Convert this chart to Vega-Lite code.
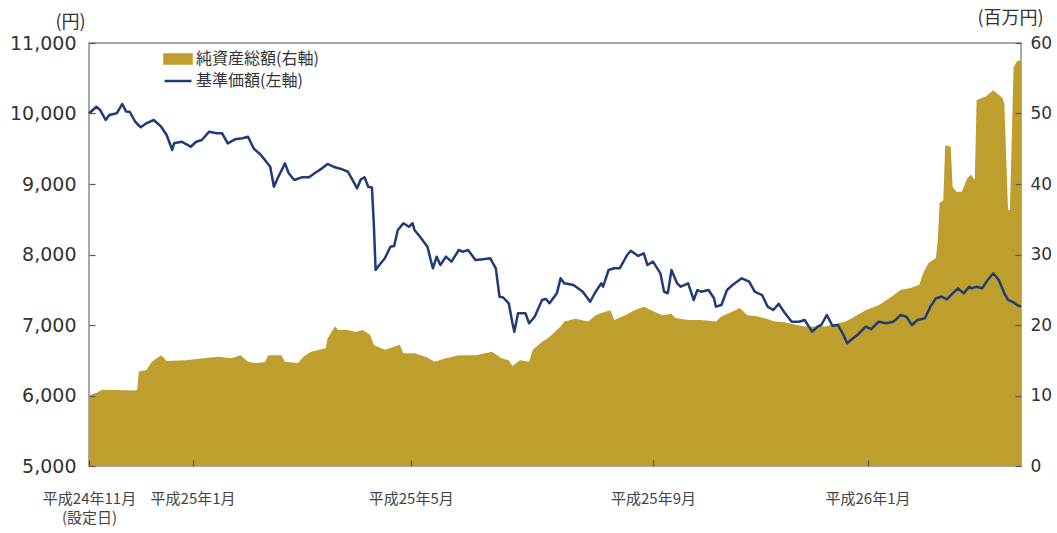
{
  "$schema": "https://vega.github.io/schema/vega-lite/v6.json",
  "width": 932,
  "height": 423,
  "autosize": {"type": "none"},
  "padding": {"left": 89, "top": 43, "right": 36, "bottom": 67},
  "background": "white",
  "config": {
    "view": {"stroke": "#8c8c8c", "strokeWidth": 1.5},
    "font": "Noto Sans CJK JP"
  },
  "datasets": {
    "nav": [
      {"date": "2012-11-06", "nav": 10000}, {"date": "2012-11-10", "nav": 10096}, {"date": "2012-11-12", "nav": 10050},
      {"date": "2012-11-15", "nav": 9908}, {"date": "2012-11-17", "nav": 9979}, {"date": "2012-11-21", "nav": 10003},
      {"date": "2012-11-24", "nav": 10135}, {"date": "2012-11-26", "nav": 10030}, {"date": "2012-11-28", "nav": 10025},
      {"date": "2012-12-01", "nav": 9883}, {"date": "2012-12-04", "nav": 9804}, {"date": "2012-12-07", "nav": 9861},
      {"date": "2012-12-11", "nav": 9908}, {"date": "2012-12-15", "nav": 9813}, {"date": "2012-12-18", "nav": 9695},
      {"date": "2012-12-21", "nav": 9482}, {"date": "2012-12-22", "nav": 9577}, {"date": "2012-12-26", "nav": 9600},
      {"date": "2012-12-31", "nav": 9529}, {"date": "2013-01-03", "nav": 9600}, {"date": "2013-01-06", "nav": 9624},
      {"date": "2013-01-10", "nav": 9742}, {"date": "2013-01-14", "nav": 9719}, {"date": "2013-01-17", "nav": 9719},
      {"date": "2013-01-20", "nav": 9577}, {"date": "2013-01-24", "nav": 9634}, {"date": "2013-01-28", "nav": 9648},
      {"date": "2013-01-31", "nav": 9671}, {"date": "2013-02-03", "nav": 9506}, {"date": "2013-02-07", "nav": 9411},
      {"date": "2013-02-12", "nav": 9245}, {"date": "2013-02-14", "nav": 8962}, {"date": "2013-02-16", "nav": 9081},
      {"date": "2013-02-20", "nav": 9293}, {"date": "2013-02-22", "nav": 9152}, {"date": "2013-02-25", "nav": 9057},
      {"date": "2013-03-01", "nav": 9095}, {"date": "2013-03-05", "nav": 9095}, {"date": "2013-03-08", "nav": 9152},
      {"date": "2013-03-12", "nav": 9222}, {"date": "2013-03-15", "nav": 9284}, {"date": "2013-03-19", "nav": 9237},
      {"date": "2013-03-23", "nav": 9208}, {"date": "2013-03-26", "nav": 9174}, {"date": "2013-03-29", "nav": 9033},
      {"date": "2013-03-31", "nav": 8939}, {"date": "2013-04-02", "nav": 9067}, {"date": "2013-04-04", "nav": 9095},
      {"date": "2013-04-06", "nav": 8962}, {"date": "2013-04-08", "nav": 8950}, {"date": "2013-04-09", "nav": 8443},
      {"date": "2013-04-10", "nav": 7780}, {"date": "2013-04-12", "nav": 7851}, {"date": "2013-04-15", "nav": 7946},
      {"date": "2013-04-18", "nav": 8111}, {"date": "2013-04-20", "nav": 8120}, {"date": "2013-04-22", "nav": 8347},
      {"date": "2013-04-25", "nav": 8443}, {"date": "2013-04-28", "nav": 8394}, {"date": "2013-04-30", "nav": 8443},
      {"date": "2013-05-01", "nav": 8347}, {"date": "2013-05-04", "nav": 8252}, {"date": "2013-05-08", "nav": 8111},
      {"date": "2013-05-10", "nav": 7900}, {"date": "2013-05-11", "nav": 7804}, {"date": "2013-05-13", "nav": 7969},
      {"date": "2013-05-15", "nav": 7851}, {"date": "2013-05-18", "nav": 7969}, {"date": "2013-05-21", "nav": 7898},
      {"date": "2013-05-25", "nav": 8064}, {"date": "2013-05-27", "nav": 8040}, {"date": "2013-05-30", "nav": 8064},
      {"date": "2013-06-03", "nav": 7922}, {"date": "2013-06-06", "nav": 7930}, {"date": "2013-06-11", "nav": 7946},
      {"date": "2013-06-14", "nav": 7804}, {"date": "2013-06-16", "nav": 7401}, {"date": "2013-06-18", "nav": 7390},
      {"date": "2013-06-21", "nav": 7308}, {"date": "2013-06-23", "nav": 7024}, {"date": "2013-06-24", "nav": 6905},
      {"date": "2013-06-26", "nav": 7166}, {"date": "2013-06-30", "nav": 7166}, {"date": "2013-07-02", "nav": 7024},
      {"date": "2013-07-05", "nav": 7118}, {"date": "2013-07-09", "nav": 7355}, {"date": "2013-07-11", "nav": 7370},
      {"date": "2013-07-13", "nav": 7308}, {"date": "2013-07-17", "nav": 7449}, {"date": "2013-07-19", "nav": 7662},
      {"date": "2013-07-21", "nav": 7591}, {"date": "2013-07-26", "nav": 7567}, {"date": "2013-07-31", "nav": 7472},
      {"date": "2013-08-04", "nav": 7330}, {"date": "2013-08-07", "nav": 7472}, {"date": "2013-08-10", "nav": 7591},
      {"date": "2013-08-11", "nav": 7543}, {"date": "2013-08-14", "nav": 7780}, {"date": "2013-08-17", "nav": 7804},
      {"date": "2013-08-20", "nav": 7804}, {"date": "2013-08-24", "nav": 7993}, {"date": "2013-08-26", "nav": 8054},
      {"date": "2013-08-30", "nav": 7979}, {"date": "2013-09-02", "nav": 8017}, {"date": "2013-09-04", "nav": 7851},
      {"date": "2013-09-07", "nav": 7898}, {"date": "2013-09-11", "nav": 7733}, {"date": "2013-09-13", "nav": 7472},
      {"date": "2013-09-15", "nav": 7450}, {"date": "2013-09-17", "nav": 7780}, {"date": "2013-09-20", "nav": 7591},
      {"date": "2013-09-22", "nav": 7543}, {"date": "2013-09-26", "nav": 7591}, {"date": "2013-09-29", "nav": 7355},
      {"date": "2013-10-01", "nav": 7496}, {"date": "2013-10-03", "nav": 7472}, {"date": "2013-10-07", "nav": 7496},
      {"date": "2013-10-10", "nav": 7379}, {"date": "2013-10-11", "nav": 7260}, {"date": "2013-10-14", "nav": 7283},
      {"date": "2013-10-17", "nav": 7496}, {"date": "2013-10-20", "nav": 7567}, {"date": "2013-10-25", "nav": 7662},
      {"date": "2013-10-29", "nav": 7615}, {"date": "2013-11-01", "nav": 7472}, {"date": "2013-11-05", "nav": 7425},
      {"date": "2013-11-08", "nav": 7260}, {"date": "2013-11-11", "nav": 7213}, {"date": "2013-11-14", "nav": 7300},
      {"date": "2013-11-17", "nav": 7180}, {"date": "2013-11-21", "nav": 7047}, {"date": "2013-11-25", "nav": 7047},
      {"date": "2013-11-28", "nav": 7071}, {"date": "2013-12-02", "nav": 6905}, {"date": "2013-12-05", "nav": 6976},
      {"date": "2013-12-07", "nav": 7000}, {"date": "2013-12-10", "nav": 7142}, {"date": "2013-12-13", "nav": 6990},
      {"date": "2013-12-16", "nav": 7000}, {"date": "2013-12-19", "nav": 6858}, {"date": "2013-12-21", "nav": 6740},
      {"date": "2013-12-23", "nav": 6787}, {"date": "2013-12-27", "nav": 6870}, {"date": "2013-12-31", "nav": 6976},
      {"date": "2014-01-03", "nav": 6940}, {"date": "2014-01-07", "nav": 7047}, {"date": "2014-01-11", "nav": 7024},
      {"date": "2014-01-15", "nav": 7047}, {"date": "2014-01-19", "nav": 7142}, {"date": "2014-01-22", "nav": 7118},
      {"date": "2014-01-25", "nav": 7000}, {"date": "2014-01-28", "nav": 7071}, {"date": "2014-02-01", "nav": 7095},
      {"date": "2014-02-04", "nav": 7260}, {"date": "2014-02-07", "nav": 7379}, {"date": "2014-02-10", "nav": 7401},
      {"date": "2014-02-13", "nav": 7365}, {"date": "2014-02-16", "nav": 7449}, {"date": "2014-02-19", "nav": 7520},
      {"date": "2014-02-22", "nav": 7449}, {"date": "2014-02-25", "nav": 7543}, {"date": "2014-02-26", "nav": 7520},
      {"date": "2014-03-01", "nav": 7543}, {"date": "2014-03-04", "nav": 7520}, {"date": "2014-03-07", "nav": 7638},
      {"date": "2014-03-10", "nav": 7733}, {"date": "2014-03-13", "nav": 7638}, {"date": "2014-03-16", "nav": 7449},
      {"date": "2014-03-18", "nav": 7355}, {"date": "2014-03-21", "nav": 7320}, {"date": "2014-03-23", "nav": 7283},
      {"date": "2014-03-25", "nav": 7260}
    ],
    "aum": [
      {"date": "2012-11-06", "aum": 10.0}, {"date": "2012-11-11", "aum": 10.5}, {"date": "2012-11-13", "aum": 10.8},
      {"date": "2012-12-01", "aum": 10.7}, {"date": "2012-12-02", "aum": 10.8}, {"date": "2012-12-03", "aum": 13.4},
      {"date": "2012-12-07", "aum": 13.6}, {"date": "2012-12-10", "aum": 14.8}, {"date": "2012-12-15", "aum": 15.7},
      {"date": "2012-12-18", "aum": 14.9}, {"date": "2012-12-28", "aum": 15.0}, {"date": "2013-01-15", "aum": 15.5},
      {"date": "2013-01-22", "aum": 15.3}, {"date": "2013-01-27", "aum": 15.7}, {"date": "2013-01-31", "aum": 14.8},
      {"date": "2013-02-04", "aum": 14.6}, {"date": "2013-02-09", "aum": 14.7}, {"date": "2013-02-11", "aum": 15.7},
      {"date": "2013-02-18", "aum": 15.7}, {"date": "2013-02-20", "aum": 14.8}, {"date": "2013-02-27", "aum": 14.6},
      {"date": "2013-03-02", "aum": 15.5}, {"date": "2013-03-06", "aum": 16.2}, {"date": "2013-03-14", "aum": 16.7},
      {"date": "2013-03-15", "aum": 18.1}, {"date": "2013-03-19", "aum": 19.8}, {"date": "2013-03-21", "aum": 19.3},
      {"date": "2013-03-26", "aum": 19.3}, {"date": "2013-03-30", "aum": 19.0}, {"date": "2013-04-03", "aum": 19.3},
      {"date": "2013-04-07", "aum": 18.6}, {"date": "2013-04-09", "aum": 17.2}, {"date": "2013-04-11", "aum": 16.9},
      {"date": "2013-04-15", "aum": 16.5}, {"date": "2013-04-20", "aum": 16.9}, {"date": "2013-04-23", "aum": 17.2},
      {"date": "2013-04-25", "aum": 16.0}, {"date": "2013-05-01", "aum": 16.0}, {"date": "2013-05-07", "aum": 15.5},
      {"date": "2013-05-12", "aum": 14.8}, {"date": "2013-05-18", "aum": 15.3}, {"date": "2013-05-25", "aum": 15.7},
      {"date": "2013-06-03", "aum": 15.7}, {"date": "2013-06-12", "aum": 16.2}, {"date": "2013-06-17", "aum": 15.3},
      {"date": "2013-06-21", "aum": 15.0}, {"date": "2013-06-23", "aum": 14.2}, {"date": "2013-06-27", "aum": 15.0},
      {"date": "2013-07-02", "aum": 14.8}, {"date": "2013-07-04", "aum": 16.5}, {"date": "2013-07-08", "aum": 17.4},
      {"date": "2013-07-13", "aum": 18.3}, {"date": "2013-07-19", "aum": 19.8}, {"date": "2013-07-21", "aum": 20.5},
      {"date": "2013-07-27", "aum": 20.9}, {"date": "2013-08-03", "aum": 20.5}, {"date": "2013-08-07", "aum": 21.4},
      {"date": "2013-08-10", "aum": 21.7}, {"date": "2013-08-15", "aum": 22.1}, {"date": "2013-08-17", "aum": 20.7},
      {"date": "2013-08-23", "aum": 21.4}, {"date": "2013-08-28", "aum": 22.1}, {"date": "2013-09-02", "aum": 22.6},
      {"date": "2013-09-06", "aum": 22.1}, {"date": "2013-09-12", "aum": 21.4}, {"date": "2013-09-17", "aum": 21.6},
      {"date": "2013-09-19", "aum": 21.0}, {"date": "2013-09-26", "aum": 20.7}, {"date": "2013-10-03", "aum": 20.7},
      {"date": "2013-10-11", "aum": 20.5}, {"date": "2013-10-14", "aum": 21.2}, {"date": "2013-10-20", "aum": 21.9},
      {"date": "2013-10-24", "aum": 22.4}, {"date": "2013-10-28", "aum": 21.4}, {"date": "2013-11-03", "aum": 21.2},
      {"date": "2013-11-12", "aum": 20.5}, {"date": "2013-11-17", "aum": 20.4}, {"date": "2013-11-28", "aum": 19.8},
      {"date": "2013-12-09", "aum": 19.8}, {"date": "2013-12-20", "aum": 20.5}, {"date": "2013-12-23", "aum": 20.9},
      {"date": "2013-12-31", "aum": 22.1}, {"date": "2014-01-07", "aum": 22.8}, {"date": "2014-01-14", "aum": 24.0},
      {"date": "2014-01-19", "aum": 25.0}, {"date": "2014-01-24", "aum": 25.2}, {"date": "2014-01-29", "aum": 25.7},
      {"date": "2014-01-31", "aum": 27.3}, {"date": "2014-02-03", "aum": 28.8}, {"date": "2014-02-07", "aum": 29.5},
      {"date": "2014-02-08", "aum": 32.1}, {"date": "2014-02-09", "aum": 37.3}, {"date": "2014-02-11", "aum": 37.7},
      {"date": "2014-02-12", "aum": 45.5}, {"date": "2014-02-15", "aum": 45.3}, {"date": "2014-02-16", "aum": 39.6},
      {"date": "2014-02-18", "aum": 38.9}, {"date": "2014-02-21", "aum": 38.9}, {"date": "2014-02-24", "aum": 40.8},
      {"date": "2014-02-26", "aum": 41.3}, {"date": "2014-02-28", "aum": 40.6}, {"date": "2014-03-01", "aum": 51.9},
      {"date": "2014-03-06", "aum": 52.4}, {"date": "2014-03-10", "aum": 53.3}, {"date": "2014-03-15", "aum": 52.2},
      {"date": "2014-03-16", "aum": 51.4}, {"date": "2014-03-18", "aum": 36.3}, {"date": "2014-03-19", "aum": 36.3},
      {"date": "2014-03-21", "aum": 56.6}, {"date": "2014-03-23", "aum": 57.5}, {"date": "2014-03-25", "aum": 57.5}
    ]
  },
  "encoding": {
    "x": {
      "field": "date",
      "type": "temporal",
      "scale": {
        "type": "utc",
        "domain": [
          {"year": 2012, "month": 11, "date": 6, "utc": true},
          {"year": 2014, "month": 3, "date": 25, "utc": true}
        ]
      },
      "axis": {
        "title": null,
        "grid": false,
        "domain": false,
        "zindex": 1,
        "values": [
          {"year": 2012, "month": 11, "date": 6, "utc": true},
          {"year": 2013, "month": 1, "date": 1, "utc": true},
          {"year": 2013, "month": 4, "date": 29, "utc": true},
          {"year": 2013, "month": 9, "date": 7, "utc": true},
          {"year": 2014, "month": 1, "date": 1, "utc": true}
        ],
        "labelExpr": "utcyear(datum.value) == 2012 ? ['平成24年11月', '(設定日)'] : utcyear(datum.value) == 2014 ? '平成26年1月' : utcmonth(datum.value) == 0 ? '平成25年1月' : utcmonth(datum.value) == 3 ? '平成25年5月' : '平成25年9月'",
        "labelFont": "Noto Sans CJK JP",
        "labelFontSize": 15,
        "labelColor": "#444444",
        "labelFlush": false,
        "labelOverlap": false,
        "labelLineHeight": 19,
        "tickSize": -6,
        "tickColor": "#555555",
        "tickWidth": 1.2,
        "labelPadding": 31
      }
    }
  },
  "resolve": {"scale": {"y": "independent"}},
  "layer": [
    {
      "data": {"name": "aum"},
      "mark": {"type": "area", "interpolate": "linear"},
      "encoding": {
        "y": {
          "field": "aum",
          "type": "quantitative",
          "scale": {"domain": [0, 60], "nice": false},
          "axis": {
            "orient": "right",
            "zindex": 1,
            "values": [0, 10, 20, 30, 40, 50, 60],
            "grid": false,
            "domain": false,
            "title": "(百万円)",
            "titleAngle": 0,
            "titleX": -11,
            "titleY": -25,
            "titleAlign": "center",
            "titleBaseline": "middle",
            "titleFont": "Noto Sans CJK JP",
            "titleFontSize": 18,
            "titleFontWeight": "normal",
            "titleColor": "#333333",
            "labelFont": "DejaVu Sans",
            "labelFontSize": 17,
            "labelColor": "#333333",
            "tickSize": -6,
            "tickColor": "#555555",
            "tickWidth": 1.2,
            "labelPadding": 15
          }
        },
        "color": {
          "datum": "純資産総額(右軸)",
          "type": "nominal",
          "scale": {
            "domain": ["純資産総額(右軸)", "基準価額(左軸)"],
            "range": ["#BE9E2D", "#1E3C78"]
          },
          "legend": {
            "title": null,
            "orient": "none",
            "legendX": 81,
            "legendY": 8,
            "padding": 0,
            "rowPadding": 4,
            "labelFont": "Noto Sans CJK JP",
            "labelFontSize": 16,
            "labelColor": "#333333",
            "labelOffset": 10,
            "symbolSize": 144,
            "encode": {
              "symbols": {
                "update": {
                  "shape": {"signal": "datum.value === '純資産総額(右軸)' ? 'M-2.25,-0.75H2.25V0.75H-2.25Z' : 'M-2.25,0H2.25'"},
                  "fill": {"signal": "datum.value === '純資産総額(右軸)' ? '#BE9E2D' : 'transparent'"},
                  "stroke": {"signal": "datum.value === '純資産総額(右軸)' ? 'transparent' : '#1E3C78'"},
                  "strokeWidth": {"value": 2.5},
                  "opacity": {"value": 1}
                }
              }
            }
          }
        }
      }
    },
    {
      "data": {"name": "nav"},
      "mark": {"type": "line", "interpolate": "linear", "strokeWidth": 2.5, "strokeJoin": "round"},
      "encoding": {
        "y": {
          "field": "nav",
          "type": "quantitative",
          "scale": {"domain": [5000, 11000], "nice": false, "zero": false},
          "axis": {
            "orient": "left",
            "zindex": 1,
            "values": [5000, 6000, 7000, 8000, 9000, 10000, 11000],
            "grid": false,
            "domain": false,
            "title": "(円)",
            "titleAngle": 0,
            "titleX": -19,
            "titleY": -21,
            "titleAlign": "center",
            "titleBaseline": "middle",
            "titleFont": "Noto Sans CJK JP",
            "titleFontSize": 18,
            "titleFontWeight": "normal",
            "titleColor": "#333333",
            "labelFont": "DejaVu Sans",
            "labelFontSize": 19,
            "labelColor": "#333333",
            "tickSize": -6,
            "tickColor": "#555555",
            "tickWidth": 1.2,
            "labelPadding": 19
          }
        },
        "color": {"datum": "基準価額(左軸)", "type": "nominal"}
      }
    }
  ]
}
